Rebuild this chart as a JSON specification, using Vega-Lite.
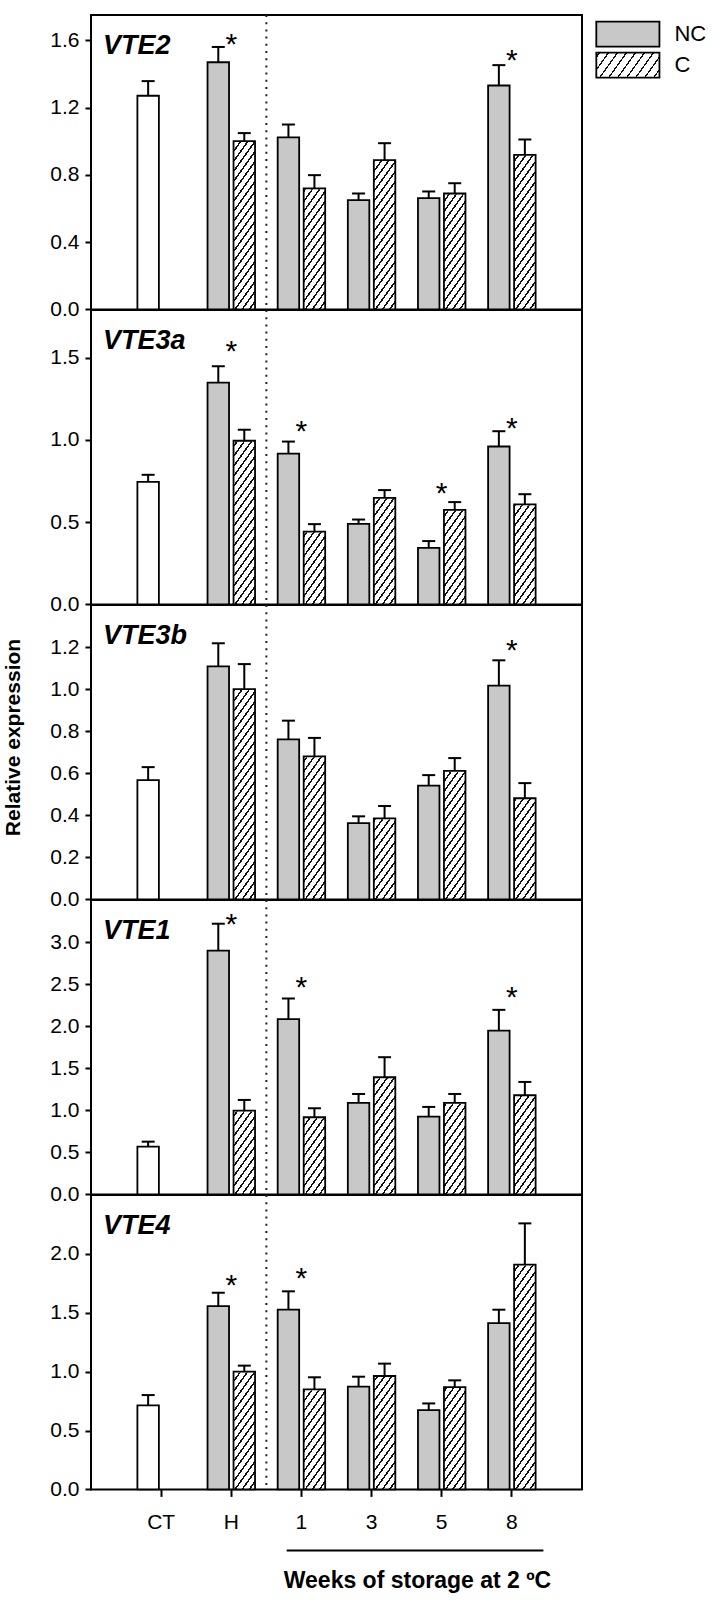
{
"$schema":"https://vega.github.io/schema/vega-lite/v6.json",
"padding":{"left":0,"top":13,"right":0,"bottom":0},
"background":"white",
"spacing":0,
"bounds":"flush",
"resolve":{"scale":{"fill":"independent"}},
"config":{"font":"Liberation Sans","view":{"stroke":"black","strokeWidth":2},
"axisY":{"domain":false,"grid":false,"tickSize":6,"tickWidth":2,"tickColor":"black","labelFontSize":21,"labelColor":"black","labelPadding":6,"labelFlush":false,"labelOverlap":false}},
"datasets":{
"bars":[
{"gene":"VTE2","time":"CT","treatment":"NC","value":1.27,"err_top":1.357},
{"gene":"VTE2","time":"H","treatment":"NC","value":1.469,"err_top":1.56},
{"gene":"VTE2","time":"H","treatment":"C","value":1.0,"err_top":1.048},
{"gene":"VTE2","time":"1","treatment":"NC","value":1.022,"err_top":1.099},
{"gene":"VTE2","time":"1","treatment":"C","value":0.719,"err_top":0.798},
{"gene":"VTE2","time":"3","treatment":"NC","value":0.649,"err_top":0.689},
{"gene":"VTE2","time":"3","treatment":"C","value":0.887,"err_top":0.988},
{"gene":"VTE2","time":"5","treatment":"NC","value":0.661,"err_top":0.701},
{"gene":"VTE2","time":"5","treatment":"C","value":0.689,"err_top":0.75},
{"gene":"VTE2","time":"8","treatment":"NC","value":1.331,"err_top":1.452},
{"gene":"VTE2","time":"8","treatment":"C","value":0.919,"err_top":1.01},
{"gene":"VTE3a","time":"CT","treatment":"NC","value":0.745,"err_top":0.788},
{"gene":"VTE3a","time":"H","treatment":"NC","value":1.349,"err_top":1.448},
{"gene":"VTE3a","time":"H","treatment":"C","value":0.995,"err_top":1.062},
{"gene":"VTE3a","time":"1","treatment":"NC","value":0.917,"err_top":0.99},
{"gene":"VTE3a","time":"1","treatment":"C","value":0.443,"err_top":0.488},
{"gene":"VTE3a","time":"3","treatment":"NC","value":0.49,"err_top":0.516},
{"gene":"VTE3a","time":"3","treatment":"C","value":0.648,"err_top":0.695},
{"gene":"VTE3a","time":"5","treatment":"NC","value":0.344,"err_top":0.385},
{"gene":"VTE3a","time":"5","treatment":"C","value":0.575,"err_top":0.622},
{"gene":"VTE3a","time":"8","treatment":"NC","value":0.96,"err_top":1.053},
{"gene":"VTE3a","time":"8","treatment":"C","value":0.608,"err_top":0.67},
{"gene":"VTE3b","time":"CT","treatment":"NC","value":0.567,"err_top":0.629},
{"gene":"VTE3b","time":"H","treatment":"NC","value":1.108,"err_top":1.218},
{"gene":"VTE3b","time":"H","treatment":"C","value":1.0,"err_top":1.119},
{"gene":"VTE3b","time":"1","treatment":"NC","value":0.761,"err_top":0.85},
{"gene":"VTE3b","time":"1","treatment":"C","value":0.68,"err_top":0.768},
{"gene":"VTE3b","time":"3","treatment":"NC","value":0.363,"err_top":0.395},
{"gene":"VTE3b","time":"3","treatment":"C","value":0.385,"err_top":0.444},
{"gene":"VTE3b","time":"5","treatment":"NC","value":0.541,"err_top":0.591},
{"gene":"VTE3b","time":"5","treatment":"C","value":0.611,"err_top":0.672},
{"gene":"VTE3b","time":"8","treatment":"NC","value":1.017,"err_top":1.137},
{"gene":"VTE3b","time":"8","treatment":"C","value":0.481,"err_top":0.553},
{"gene":"VTE1","time":"CT","treatment":"NC","value":0.567,"err_top":0.627},
{"gene":"VTE1","time":"H","treatment":"NC","value":2.897,"err_top":3.218},
{"gene":"VTE1","time":"H","treatment":"C","value":0.995,"err_top":1.123},
{"gene":"VTE1","time":"1","treatment":"NC","value":2.083,"err_top":2.329},
{"gene":"VTE1","time":"1","treatment":"C","value":0.917,"err_top":1.024},
{"gene":"VTE1","time":"3","treatment":"NC","value":1.087,"err_top":1.194},
{"gene":"VTE1","time":"3","treatment":"C","value":1.393,"err_top":1.631},
{"gene":"VTE1","time":"5","treatment":"NC","value":0.925,"err_top":1.04},
{"gene":"VTE1","time":"5","treatment":"C","value":1.087,"err_top":1.194},
{"gene":"VTE1","time":"8","treatment":"NC","value":1.948,"err_top":2.194},
{"gene":"VTE1","time":"8","treatment":"C","value":1.179,"err_top":1.337},
{"gene":"VTE4","time":"CT","treatment":"NC","value":0.713,"err_top":0.801},
{"gene":"VTE4","time":"H","treatment":"NC","value":1.557,"err_top":1.67},
{"gene":"VTE4","time":"H","treatment":"C","value":1.0,"err_top":1.051},
{"gene":"VTE4","time":"1","treatment":"NC","value":1.526,"err_top":1.682},
{"gene":"VTE4","time":"1","treatment":"C","value":0.849,"err_top":0.952},
{"gene":"VTE4","time":"3","treatment":"NC","value":0.872,"err_top":0.957},
{"gene":"VTE4","time":"3","treatment":"C","value":0.963,"err_top":1.068},
{"gene":"VTE4","time":"5","treatment":"NC","value":0.673,"err_top":0.73},
{"gene":"VTE4","time":"5","treatment":"C","value":0.869,"err_top":0.926},
{"gene":"VTE4","time":"8","treatment":"NC","value":1.412,"err_top":1.526},
{"gene":"VTE4","time":"8","treatment":"C","value":1.909,"err_top":2.259}
],
"stars":[
{"gene":"VTE2","time":"H","y":1.624},{"gene":"VTE2","time":"8","y":1.529},
{"gene":"VTE3a","time":"H","y":1.586},{"gene":"VTE3a","time":"1","y":1.1},{"gene":"VTE3a","time":"5","y":0.725},{"gene":"VTE3a","time":"8","y":1.12},
{"gene":"VTE3b","time":"8","y":1.22},
{"gene":"VTE1","time":"H","y":3.298},{"gene":"VTE1","time":"1","y":2.552},{"gene":"VTE1","time":"8","y":2.437},
{"gene":"VTE4","time":"H","y":1.798},{"gene":"VTE4","time":"1","y":1.855}
],
"labels":[{"gene":"VTE2"},{"gene":"VTE3a"},{"gene":"VTE3b"},{"gene":"VTE1"},{"gene":"VTE4"}],
"legend":[{"treatment":"NC"},{"treatment":"C"}]
},
"vconcat":[
{"width":491,"height":294.4,"layer":[
{"data":{"name":"bars"},"transform":[{"filter":"datum.gene === 'VTE2' && datum.treatment === 'C'"}],"mark":{"type":"bar","strokeWidth":0,"fill":{"gradient":"linear","x1":0,"y1":0,"x2":0.1125,"y2":1.0915,"stops":[{"offset":0,"color":"#fff"},{"offset":0.010,"color":"#fff"},{"offset":0.010,"color":"#111"},{"offset":0.018,"color":"#111"},{"offset":0.018,"color":"#fff"},{"offset":0.041,"color":"#fff"},{"offset":0.041,"color":"#111"},{"offset":0.049,"color":"#111"},{"offset":0.049,"color":"#fff"},{"offset":0.072,"color":"#fff"},{"offset":0.072,"color":"#111"},{"offset":0.080,"color":"#111"},{"offset":0.080,"color":"#fff"},{"offset":0.103,"color":"#fff"},{"offset":0.103,"color":"#111"},{"offset":0.111,"color":"#111"},{"offset":0.111,"color":"#fff"},{"offset":0.134,"color":"#fff"},{"offset":0.134,"color":"#111"},{"offset":0.142,"color":"#111"},{"offset":0.142,"color":"#fff"},{"offset":0.165,"color":"#fff"},{"offset":0.165,"color":"#111"},{"offset":0.173,"color":"#111"},{"offset":0.173,"color":"#fff"},{"offset":0.196,"color":"#fff"},{"offset":0.196,"color":"#111"},{"offset":0.204,"color":"#111"},{"offset":0.204,"color":"#fff"},{"offset":0.227,"color":"#fff"},{"offset":0.227,"color":"#111"},{"offset":0.235,"color":"#111"},{"offset":0.235,"color":"#fff"},{"offset":0.258,"color":"#fff"},{"offset":0.258,"color":"#111"},{"offset":0.266,"color":"#111"},{"offset":0.266,"color":"#fff"},{"offset":0.289,"color":"#fff"},{"offset":0.289,"color":"#111"},{"offset":0.297,"color":"#111"},{"offset":0.297,"color":"#fff"},{"offset":0.320,"color":"#fff"},{"offset":0.320,"color":"#111"},{"offset":0.328,"color":"#111"},{"offset":0.328,"color":"#fff"},{"offset":0.351,"color":"#fff"},{"offset":0.351,"color":"#111"},{"offset":0.359,"color":"#111"},{"offset":0.359,"color":"#fff"},{"offset":0.382,"color":"#fff"},{"offset":0.382,"color":"#111"},{"offset":0.390,"color":"#111"},{"offset":0.390,"color":"#fff"},{"offset":0.413,"color":"#fff"},{"offset":0.413,"color":"#111"},{"offset":0.421,"color":"#111"},{"offset":0.421,"color":"#fff"},{"offset":0.444,"color":"#fff"},{"offset":0.444,"color":"#111"},{"offset":0.452,"color":"#111"},{"offset":0.452,"color":"#fff"},{"offset":0.475,"color":"#fff"},{"offset":0.475,"color":"#111"},{"offset":0.483,"color":"#111"},{"offset":0.483,"color":"#fff"},{"offset":0.506,"color":"#fff"},{"offset":0.506,"color":"#111"},{"offset":0.514,"color":"#111"},{"offset":0.514,"color":"#fff"},{"offset":0.537,"color":"#fff"},{"offset":0.537,"color":"#111"},{"offset":0.545,"color":"#111"},{"offset":0.545,"color":"#fff"},{"offset":0.568,"color":"#fff"},{"offset":0.568,"color":"#111"},{"offset":0.576,"color":"#111"},{"offset":0.576,"color":"#fff"},{"offset":0.599,"color":"#fff"},{"offset":0.599,"color":"#111"},{"offset":0.607,"color":"#111"},{"offset":0.607,"color":"#fff"},{"offset":0.630,"color":"#fff"},{"offset":0.630,"color":"#111"},{"offset":0.638,"color":"#111"},{"offset":0.638,"color":"#fff"},{"offset":0.661,"color":"#fff"},{"offset":0.661,"color":"#111"},{"offset":0.669,"color":"#111"},{"offset":0.669,"color":"#fff"},{"offset":0.692,"color":"#fff"},{"offset":0.692,"color":"#111"},{"offset":0.700,"color":"#111"},{"offset":0.700,"color":"#fff"},{"offset":0.723,"color":"#fff"},{"offset":0.723,"color":"#111"},{"offset":0.731,"color":"#111"},{"offset":0.731,"color":"#fff"},{"offset":0.754,"color":"#fff"},{"offset":0.754,"color":"#111"},{"offset":0.762,"color":"#111"},{"offset":0.762,"color":"#fff"},{"offset":0.785,"color":"#fff"},{"offset":0.785,"color":"#111"},{"offset":0.793,"color":"#111"},{"offset":0.793,"color":"#fff"},{"offset":0.816,"color":"#fff"},{"offset":0.816,"color":"#111"},{"offset":0.824,"color":"#111"},{"offset":0.824,"color":"#fff"},{"offset":0.847,"color":"#fff"},{"offset":0.847,"color":"#111"},{"offset":0.855,"color":"#111"},{"offset":0.855,"color":"#fff"},{"offset":0.878,"color":"#fff"},{"offset":0.878,"color":"#111"},{"offset":0.886,"color":"#111"},{"offset":0.886,"color":"#fff"},{"offset":0.909,"color":"#fff"},{"offset":0.909,"color":"#111"},{"offset":0.917,"color":"#111"},{"offset":0.917,"color":"#fff"},{"offset":0.940,"color":"#fff"},{"offset":0.940,"color":"#111"},{"offset":0.948,"color":"#111"},{"offset":0.948,"color":"#fff"},{"offset":0.971,"color":"#fff"},{"offset":0.971,"color":"#111"},{"offset":0.979,"color":"#111"},{"offset":0.979,"color":"#fff"},{"offset":1,"color":"#fff"}]}},
"encoding":{"x":{"field":"time","type":"ordinal","scale":{"domain":["CT","H","1","3","5","8"],"paddingInner":0,"paddingOuter":0.5},"axis":null},"xOffset":{"field":"treatment","type":"nominal","scale":{"domain":["NC","C"],"paddingInner":0.173,"paddingOuter":0.4355}},"y":{"datum":1.738,"type":"quantitative","scale":{"domain":[0,1.75],"nice":false},"axis":{"values":[0,0.4,0.8,1.2,1.6],"format":".1f","title":null}}}},
{"data":{"name":"bars"},"transform":[{"filter":"datum.gene === 'VTE2' && datum.treatment === 'C'"}],"mark":{"type":"bar","fill":"white","stroke":"white","strokeWidth":1.5},
"encoding":{"x":{"field":"time","type":"ordinal","scale":{"domain":["CT","H","1","3","5","8"],"paddingInner":0,"paddingOuter":0.5},"axis":null},"xOffset":{"field":"treatment","type":"nominal","scale":{"domain":["NC","C"],"paddingInner":0.173,"paddingOuter":0.4355}},"y":{"field":"value","type":"quantitative","scale":{"domain":[0,1.75],"nice":false},"axis":{"values":[0,0.4,0.8,1.2,1.6],"format":".1f","title":null}},"y2":{"datum":1.738}}},
{"data":{"name":"bars"},"transform":[{"filter":"datum.gene === 'VTE2'"}],"mark":{"type":"bar","stroke":"black","strokeWidth":1.8},
"encoding":{"x":{"field":"time","type":"ordinal","scale":{"domain":["CT","H","1","3","5","8"],"paddingInner":0,"paddingOuter":0.5},"axis":null},"xOffset":{"field":"treatment","type":"nominal","scale":{"domain":["NC","C"],"paddingInner":0.173,"paddingOuter":0.4355}},"y":{"field":"value","type":"quantitative","scale":{"domain":[0,1.75],"nice":false},"axis":{"values":[0,0.4,0.8,1.2,1.6],"format":".1f","title":null}},
"fill":{"field":"treatment","type":"nominal","scale":{"domain":["NC","C"],"range":["#c8c8c8","transparent"]},"condition":{"test":"datum.time === 'CT'","value":"white"},"legend":null}}},
{"data":{"name":"bars"},"transform":[{"filter":"datum.gene === 'VTE2'"}],"mark":{"type":"rule","color":"black","strokeWidth":2},
"encoding":{"x":{"field":"time","type":"ordinal","scale":{"domain":["CT","H","1","3","5","8"],"paddingInner":0,"paddingOuter":0.5},"axis":null},"xOffset":{"field":"treatment","type":"nominal","scale":{"domain":["NC","C"],"paddingInner":0.173,"paddingOuter":0.4355}},"y":{"field":"value","type":"quantitative","scale":{"domain":[0,1.75],"nice":false},"axis":{"values":[0,0.4,0.8,1.2,1.6],"format":".1f","title":null}},"y2":{"field":"err_top"}}},
{"data":{"name":"bars"},"transform":[{"filter":"datum.gene === 'VTE2'"}],"mark":{"type":"tick","color":"black","thickness":2,"size":13,"opacity":1},
"encoding":{"x":{"field":"time","type":"ordinal","scale":{"domain":["CT","H","1","3","5","8"],"paddingInner":0,"paddingOuter":0.5},"axis":null},"xOffset":{"field":"treatment","type":"nominal","scale":{"domain":["NC","C"],"paddingInner":0.173,"paddingOuter":0.4355}},"y":{"field":"err_top","type":"quantitative","scale":{"domain":[0,1.75],"nice":false},"axis":{"values":[0,0.4,0.8,1.2,1.6],"format":".1f","title":null}}}},
{"data":{"name":"stars"},"transform":[{"filter":"datum.gene === 'VTE2'"}],"mark":{"type":"text","text":"*","fontSize":30,"dy":17.5,"baseline":"alphabetic","color":"black"},
"encoding":{"x":{"field":"time","type":"ordinal","scale":{"domain":["CT","H","1","3","5","8"],"paddingInner":0,"paddingOuter":0.5},"axis":null},"y":{"field":"y","type":"quantitative","scale":{"domain":[0,1.75],"nice":false},"axis":{"values":[0,0.4,0.8,1.2,1.6],"format":".1f","title":null}}}},
{"data":{"name":"labels"},"transform":[{"filter":"datum.gene === 'VTE2'"}],"mark":{"type":"rule","strokeDash":[2,5.2],"strokeWidth":2,"color":"#222"},
"encoding":{"x":{"datum":"1","type":"ordinal","bandPosition":0,"scale":{"domain":["CT","H","1","3","5","8"],"paddingInner":0,"paddingOuter":0.5},"axis":null}}},
{"data":{"name":"labels"},"transform":[{"filter":"datum.gene === 'VTE2'"}],"mark":{"type":"text","fontSize":27,"fontWeight":"bold","fontStyle":"italic","align":"left","baseline":"alphabetic","dx":-23,"dy":39,"color":"black"},
"encoding":{"x":{"datum":"CT","type":"ordinal","bandPosition":0,"scale":{"domain":["CT","H","1","3","5","8"],"paddingInner":0,"paddingOuter":0.5},"axis":null},"y":{"datum":1.75,"type":"quantitative","scale":{"domain":[0,1.75],"nice":false},"axis":{"values":[0,0.4,0.8,1.2,1.6],"format":".1f","title":null}},"text":{"field":"gene"}}},
{"data":{"name":"legend"},"transform":[{"filter":"datum.treatment === 'NC'"}],"mark":{"type":"rect","fill":"#c8c8c8","stroke":"black","strokeWidth":1.8},
"encoding":{"x":{"datum":"8","type":"ordinal","bandPosition":1.704,"scale":{"domain":["CT","H","1","3","5","8"],"paddingInner":0,"paddingOuter":0.5},"axis":null},"x2":{"datum":"8","bandPosition":2.604},"y":{"datum":1.7102,"type":"quantitative","scale":{"domain":[0,1.75],"nice":false},"axis":{"values":[0,0.4,0.8,1.2,1.6],"format":".1f","title":null}},"y2":{"datum":1.5616}}},
{"data":{"name":"legend"},"transform":[{"filter":"datum.treatment === 'C'"}],"mark":{"type":"rect","strokeWidth":0,"fill":{"gradient":"linear","x1":0,"y1":0,"x2":1.188,"y2":0.3367,"stops":[{"offset":0,"color":"#fff"},{"offset":0.03,"color":"#fff"},{"offset":0.03,"color":"#111"},{"offset":0.05,"color":"#111"},{"offset":0.05,"color":"#fff"},{"offset":0.141,"color":"#fff"},{"offset":0.141,"color":"#111"},{"offset":0.161,"color":"#111"},{"offset":0.161,"color":"#fff"},{"offset":0.252,"color":"#fff"},{"offset":0.252,"color":"#111"},{"offset":0.272,"color":"#111"},{"offset":0.272,"color":"#fff"},{"offset":0.363,"color":"#fff"},{"offset":0.363,"color":"#111"},{"offset":0.383,"color":"#111"},{"offset":0.383,"color":"#fff"},{"offset":0.474,"color":"#fff"},{"offset":0.474,"color":"#111"},{"offset":0.494,"color":"#111"},{"offset":0.494,"color":"#fff"},{"offset":0.585,"color":"#fff"},{"offset":0.585,"color":"#111"},{"offset":0.605,"color":"#111"},{"offset":0.605,"color":"#fff"},{"offset":0.696,"color":"#fff"},{"offset":0.696,"color":"#111"},{"offset":0.716,"color":"#111"},{"offset":0.716,"color":"#fff"},{"offset":0.807,"color":"#fff"},{"offset":0.807,"color":"#111"},{"offset":0.827,"color":"#111"},{"offset":0.827,"color":"#fff"},{"offset":0.918,"color":"#fff"},{"offset":0.918,"color":"#111"},{"offset":0.938,"color":"#111"},{"offset":0.938,"color":"#fff"},{"offset":1,"color":"#fff"}]}},
"encoding":{"x":{"datum":"8","type":"ordinal","bandPosition":1.704,"scale":{"domain":["CT","H","1","3","5","8"],"paddingInner":0,"paddingOuter":0.5},"axis":null},"x2":{"datum":"8","bandPosition":2.604},"y":{"datum":1.5259,"type":"quantitative","scale":{"domain":[0,1.75],"nice":false},"axis":{"values":[0,0.4,0.8,1.2,1.6],"format":".1f","title":null}},"y2":{"datum":1.3773}}},
{"data":{"name":"legend"},"transform":[{"filter":"datum.treatment === 'C'"}],"mark":{"type":"rect","fill":"transparent","stroke":"black","strokeWidth":1.8},
"encoding":{"x":{"datum":"8","type":"ordinal","bandPosition":1.704,"scale":{"domain":["CT","H","1","3","5","8"],"paddingInner":0,"paddingOuter":0.5},"axis":null},"x2":{"datum":"8","bandPosition":2.604},"y":{"datum":1.5259,"type":"quantitative","scale":{"domain":[0,1.75],"nice":false},"axis":{"values":[0,0.4,0.8,1.2,1.6],"format":".1f","title":null}},"y2":{"datum":1.3773}}},
{"data":{"name":"legend"},"transform":[{"filter":"datum.treatment === 'NC'"}],"mark":{"type":"text","align":"left","baseline":"middle","dx":15,"fontSize":22,"color":"black"},
"encoding":{"x":{"datum":"8","type":"ordinal","bandPosition":2.604,"scale":{"domain":["CT","H","1","3","5","8"],"paddingInner":0,"paddingOuter":0.5},"axis":null},"y":{"datum":1.6359,"type":"quantitative","scale":{"domain":[0,1.75],"nice":false},"axis":{"values":[0,0.4,0.8,1.2,1.6],"format":".1f","title":null}},"text":{"field":"treatment"}}},
{"data":{"name":"legend"},"transform":[{"filter":"datum.treatment === 'C'"}],"mark":{"type":"text","align":"left","baseline":"middle","dx":15,"fontSize":22,"color":"black"},
"encoding":{"x":{"datum":"8","type":"ordinal","bandPosition":2.604,"scale":{"domain":["CT","H","1","3","5","8"],"paddingInner":0,"paddingOuter":0.5},"axis":null},"y":{"datum":1.4516,"type":"quantitative","scale":{"domain":[0,1.75],"nice":false},"axis":{"values":[0,0.4,0.8,1.2,1.6],"format":".1f","title":null}},"text":{"field":"treatment"}}}
]},
{"width":491,"height":294.4,"layer":[
{"data":{"name":"bars"},"transform":[{"filter":"datum.gene === 'VTE3a' && datum.treatment === 'C'"}],"mark":{"type":"bar","strokeWidth":0,"fill":{"gradient":"linear","x1":0,"y1":0,"x2":0.1125,"y2":1.0915,"stops":[{"offset":0,"color":"#fff"},{"offset":0.010,"color":"#fff"},{"offset":0.010,"color":"#111"},{"offset":0.018,"color":"#111"},{"offset":0.018,"color":"#fff"},{"offset":0.041,"color":"#fff"},{"offset":0.041,"color":"#111"},{"offset":0.049,"color":"#111"},{"offset":0.049,"color":"#fff"},{"offset":0.072,"color":"#fff"},{"offset":0.072,"color":"#111"},{"offset":0.080,"color":"#111"},{"offset":0.080,"color":"#fff"},{"offset":0.103,"color":"#fff"},{"offset":0.103,"color":"#111"},{"offset":0.111,"color":"#111"},{"offset":0.111,"color":"#fff"},{"offset":0.134,"color":"#fff"},{"offset":0.134,"color":"#111"},{"offset":0.142,"color":"#111"},{"offset":0.142,"color":"#fff"},{"offset":0.165,"color":"#fff"},{"offset":0.165,"color":"#111"},{"offset":0.173,"color":"#111"},{"offset":0.173,"color":"#fff"},{"offset":0.196,"color":"#fff"},{"offset":0.196,"color":"#111"},{"offset":0.204,"color":"#111"},{"offset":0.204,"color":"#fff"},{"offset":0.227,"color":"#fff"},{"offset":0.227,"color":"#111"},{"offset":0.235,"color":"#111"},{"offset":0.235,"color":"#fff"},{"offset":0.258,"color":"#fff"},{"offset":0.258,"color":"#111"},{"offset":0.266,"color":"#111"},{"offset":0.266,"color":"#fff"},{"offset":0.289,"color":"#fff"},{"offset":0.289,"color":"#111"},{"offset":0.297,"color":"#111"},{"offset":0.297,"color":"#fff"},{"offset":0.320,"color":"#fff"},{"offset":0.320,"color":"#111"},{"offset":0.328,"color":"#111"},{"offset":0.328,"color":"#fff"},{"offset":0.351,"color":"#fff"},{"offset":0.351,"color":"#111"},{"offset":0.359,"color":"#111"},{"offset":0.359,"color":"#fff"},{"offset":0.382,"color":"#fff"},{"offset":0.382,"color":"#111"},{"offset":0.390,"color":"#111"},{"offset":0.390,"color":"#fff"},{"offset":0.413,"color":"#fff"},{"offset":0.413,"color":"#111"},{"offset":0.421,"color":"#111"},{"offset":0.421,"color":"#fff"},{"offset":0.444,"color":"#fff"},{"offset":0.444,"color":"#111"},{"offset":0.452,"color":"#111"},{"offset":0.452,"color":"#fff"},{"offset":0.475,"color":"#fff"},{"offset":0.475,"color":"#111"},{"offset":0.483,"color":"#111"},{"offset":0.483,"color":"#fff"},{"offset":0.506,"color":"#fff"},{"offset":0.506,"color":"#111"},{"offset":0.514,"color":"#111"},{"offset":0.514,"color":"#fff"},{"offset":0.537,"color":"#fff"},{"offset":0.537,"color":"#111"},{"offset":0.545,"color":"#111"},{"offset":0.545,"color":"#fff"},{"offset":0.568,"color":"#fff"},{"offset":0.568,"color":"#111"},{"offset":0.576,"color":"#111"},{"offset":0.576,"color":"#fff"},{"offset":0.599,"color":"#fff"},{"offset":0.599,"color":"#111"},{"offset":0.607,"color":"#111"},{"offset":0.607,"color":"#fff"},{"offset":0.630,"color":"#fff"},{"offset":0.630,"color":"#111"},{"offset":0.638,"color":"#111"},{"offset":0.638,"color":"#fff"},{"offset":0.661,"color":"#fff"},{"offset":0.661,"color":"#111"},{"offset":0.669,"color":"#111"},{"offset":0.669,"color":"#fff"},{"offset":0.692,"color":"#fff"},{"offset":0.692,"color":"#111"},{"offset":0.700,"color":"#111"},{"offset":0.700,"color":"#fff"},{"offset":0.723,"color":"#fff"},{"offset":0.723,"color":"#111"},{"offset":0.731,"color":"#111"},{"offset":0.731,"color":"#fff"},{"offset":0.754,"color":"#fff"},{"offset":0.754,"color":"#111"},{"offset":0.762,"color":"#111"},{"offset":0.762,"color":"#fff"},{"offset":0.785,"color":"#fff"},{"offset":0.785,"color":"#111"},{"offset":0.793,"color":"#111"},{"offset":0.793,"color":"#fff"},{"offset":0.816,"color":"#fff"},{"offset":0.816,"color":"#111"},{"offset":0.824,"color":"#111"},{"offset":0.824,"color":"#fff"},{"offset":0.847,"color":"#fff"},{"offset":0.847,"color":"#111"},{"offset":0.855,"color":"#111"},{"offset":0.855,"color":"#fff"},{"offset":0.878,"color":"#fff"},{"offset":0.878,"color":"#111"},{"offset":0.886,"color":"#111"},{"offset":0.886,"color":"#fff"},{"offset":0.909,"color":"#fff"},{"offset":0.909,"color":"#111"},{"offset":0.917,"color":"#111"},{"offset":0.917,"color":"#fff"},{"offset":0.940,"color":"#fff"},{"offset":0.940,"color":"#111"},{"offset":0.948,"color":"#111"},{"offset":0.948,"color":"#fff"},{"offset":0.971,"color":"#fff"},{"offset":0.971,"color":"#111"},{"offset":0.979,"color":"#111"},{"offset":0.979,"color":"#fff"},{"offset":1,"color":"#fff"}]}},
"encoding":{"x":{"field":"time","type":"ordinal","scale":{"domain":["CT","H","1","3","5","8"],"paddingInner":0,"paddingOuter":0.5},"axis":null},"xOffset":{"field":"treatment","type":"nominal","scale":{"domain":["NC","C"],"paddingInner":0.173,"paddingOuter":0.4355}},"y":{"datum":1.778,"type":"quantitative","scale":{"domain":[0,1.79],"nice":false},"axis":{"values":[0,0.5,1,1.5],"format":".1f","title":null}}}},
{"data":{"name":"bars"},"transform":[{"filter":"datum.gene === 'VTE3a' && datum.treatment === 'C'"}],"mark":{"type":"bar","fill":"white","stroke":"white","strokeWidth":1.5},
"encoding":{"x":{"field":"time","type":"ordinal","scale":{"domain":["CT","H","1","3","5","8"],"paddingInner":0,"paddingOuter":0.5},"axis":null},"xOffset":{"field":"treatment","type":"nominal","scale":{"domain":["NC","C"],"paddingInner":0.173,"paddingOuter":0.4355}},"y":{"field":"value","type":"quantitative","scale":{"domain":[0,1.79],"nice":false},"axis":{"values":[0,0.5,1,1.5],"format":".1f","title":null}},"y2":{"datum":1.778}}},
{"data":{"name":"bars"},"transform":[{"filter":"datum.gene === 'VTE3a'"}],"mark":{"type":"bar","stroke":"black","strokeWidth":1.8},
"encoding":{"x":{"field":"time","type":"ordinal","scale":{"domain":["CT","H","1","3","5","8"],"paddingInner":0,"paddingOuter":0.5},"axis":null},"xOffset":{"field":"treatment","type":"nominal","scale":{"domain":["NC","C"],"paddingInner":0.173,"paddingOuter":0.4355}},"y":{"field":"value","type":"quantitative","scale":{"domain":[0,1.79],"nice":false},"axis":{"values":[0,0.5,1,1.5],"format":".1f","title":null}},
"fill":{"field":"treatment","type":"nominal","scale":{"domain":["NC","C"],"range":["#c8c8c8","transparent"]},"condition":{"test":"datum.time === 'CT'","value":"white"},"legend":null}}},
{"data":{"name":"bars"},"transform":[{"filter":"datum.gene === 'VTE3a'"}],"mark":{"type":"rule","color":"black","strokeWidth":2},
"encoding":{"x":{"field":"time","type":"ordinal","scale":{"domain":["CT","H","1","3","5","8"],"paddingInner":0,"paddingOuter":0.5},"axis":null},"xOffset":{"field":"treatment","type":"nominal","scale":{"domain":["NC","C"],"paddingInner":0.173,"paddingOuter":0.4355}},"y":{"field":"value","type":"quantitative","scale":{"domain":[0,1.79],"nice":false},"axis":{"values":[0,0.5,1,1.5],"format":".1f","title":null}},"y2":{"field":"err_top"}}},
{"data":{"name":"bars"},"transform":[{"filter":"datum.gene === 'VTE3a'"}],"mark":{"type":"tick","color":"black","thickness":2,"size":13,"opacity":1},
"encoding":{"x":{"field":"time","type":"ordinal","scale":{"domain":["CT","H","1","3","5","8"],"paddingInner":0,"paddingOuter":0.5},"axis":null},"xOffset":{"field":"treatment","type":"nominal","scale":{"domain":["NC","C"],"paddingInner":0.173,"paddingOuter":0.4355}},"y":{"field":"err_top","type":"quantitative","scale":{"domain":[0,1.79],"nice":false},"axis":{"values":[0,0.5,1,1.5],"format":".1f","title":null}}}},
{"data":{"name":"stars"},"transform":[{"filter":"datum.gene === 'VTE3a'"}],"mark":{"type":"text","text":"*","fontSize":30,"dy":17.5,"baseline":"alphabetic","color":"black"},
"encoding":{"x":{"field":"time","type":"ordinal","scale":{"domain":["CT","H","1","3","5","8"],"paddingInner":0,"paddingOuter":0.5},"axis":null},"y":{"field":"y","type":"quantitative","scale":{"domain":[0,1.79],"nice":false},"axis":{"values":[0,0.5,1,1.5],"format":".1f","title":null}}}},
{"data":{"name":"labels"},"transform":[{"filter":"datum.gene === 'VTE3a'"}],"mark":{"type":"rule","strokeDash":[2,5.2],"strokeWidth":2,"color":"#222"},
"encoding":{"x":{"datum":"1","type":"ordinal","bandPosition":0,"scale":{"domain":["CT","H","1","3","5","8"],"paddingInner":0,"paddingOuter":0.5},"axis":null}}},
{"data":{"name":"labels"},"transform":[{"filter":"datum.gene === 'VTE3a'"}],"mark":{"type":"text","fontSize":27,"fontWeight":"bold","fontStyle":"italic","align":"left","baseline":"alphabetic","dx":-23,"dy":39,"color":"black"},
"encoding":{"x":{"datum":"CT","type":"ordinal","bandPosition":0,"scale":{"domain":["CT","H","1","3","5","8"],"paddingInner":0,"paddingOuter":0.5},"axis":null},"y":{"datum":1.79,"type":"quantitative","scale":{"domain":[0,1.79],"nice":false},"axis":{"values":[0,0.5,1,1.5],"format":".1f","title":null}},"text":{"field":"gene"}}}
]},
{"width":491,"height":294.4,"layer":[
{"data":{"name":"bars"},"transform":[{"filter":"datum.gene === 'VTE3b' && datum.treatment === 'C'"}],"mark":{"type":"bar","strokeWidth":0,"fill":{"gradient":"linear","x1":0,"y1":0,"x2":0.1125,"y2":1.0915,"stops":[{"offset":0,"color":"#fff"},{"offset":0.010,"color":"#fff"},{"offset":0.010,"color":"#111"},{"offset":0.018,"color":"#111"},{"offset":0.018,"color":"#fff"},{"offset":0.041,"color":"#fff"},{"offset":0.041,"color":"#111"},{"offset":0.049,"color":"#111"},{"offset":0.049,"color":"#fff"},{"offset":0.072,"color":"#fff"},{"offset":0.072,"color":"#111"},{"offset":0.080,"color":"#111"},{"offset":0.080,"color":"#fff"},{"offset":0.103,"color":"#fff"},{"offset":0.103,"color":"#111"},{"offset":0.111,"color":"#111"},{"offset":0.111,"color":"#fff"},{"offset":0.134,"color":"#fff"},{"offset":0.134,"color":"#111"},{"offset":0.142,"color":"#111"},{"offset":0.142,"color":"#fff"},{"offset":0.165,"color":"#fff"},{"offset":0.165,"color":"#111"},{"offset":0.173,"color":"#111"},{"offset":0.173,"color":"#fff"},{"offset":0.196,"color":"#fff"},{"offset":0.196,"color":"#111"},{"offset":0.204,"color":"#111"},{"offset":0.204,"color":"#fff"},{"offset":0.227,"color":"#fff"},{"offset":0.227,"color":"#111"},{"offset":0.235,"color":"#111"},{"offset":0.235,"color":"#fff"},{"offset":0.258,"color":"#fff"},{"offset":0.258,"color":"#111"},{"offset":0.266,"color":"#111"},{"offset":0.266,"color":"#fff"},{"offset":0.289,"color":"#fff"},{"offset":0.289,"color":"#111"},{"offset":0.297,"color":"#111"},{"offset":0.297,"color":"#fff"},{"offset":0.320,"color":"#fff"},{"offset":0.320,"color":"#111"},{"offset":0.328,"color":"#111"},{"offset":0.328,"color":"#fff"},{"offset":0.351,"color":"#fff"},{"offset":0.351,"color":"#111"},{"offset":0.359,"color":"#111"},{"offset":0.359,"color":"#fff"},{"offset":0.382,"color":"#fff"},{"offset":0.382,"color":"#111"},{"offset":0.390,"color":"#111"},{"offset":0.390,"color":"#fff"},{"offset":0.413,"color":"#fff"},{"offset":0.413,"color":"#111"},{"offset":0.421,"color":"#111"},{"offset":0.421,"color":"#fff"},{"offset":0.444,"color":"#fff"},{"offset":0.444,"color":"#111"},{"offset":0.452,"color":"#111"},{"offset":0.452,"color":"#fff"},{"offset":0.475,"color":"#fff"},{"offset":0.475,"color":"#111"},{"offset":0.483,"color":"#111"},{"offset":0.483,"color":"#fff"},{"offset":0.506,"color":"#fff"},{"offset":0.506,"color":"#111"},{"offset":0.514,"color":"#111"},{"offset":0.514,"color":"#fff"},{"offset":0.537,"color":"#fff"},{"offset":0.537,"color":"#111"},{"offset":0.545,"color":"#111"},{"offset":0.545,"color":"#fff"},{"offset":0.568,"color":"#fff"},{"offset":0.568,"color":"#111"},{"offset":0.576,"color":"#111"},{"offset":0.576,"color":"#fff"},{"offset":0.599,"color":"#fff"},{"offset":0.599,"color":"#111"},{"offset":0.607,"color":"#111"},{"offset":0.607,"color":"#fff"},{"offset":0.630,"color":"#fff"},{"offset":0.630,"color":"#111"},{"offset":0.638,"color":"#111"},{"offset":0.638,"color":"#fff"},{"offset":0.661,"color":"#fff"},{"offset":0.661,"color":"#111"},{"offset":0.669,"color":"#111"},{"offset":0.669,"color":"#fff"},{"offset":0.692,"color":"#fff"},{"offset":0.692,"color":"#111"},{"offset":0.700,"color":"#111"},{"offset":0.700,"color":"#fff"},{"offset":0.723,"color":"#fff"},{"offset":0.723,"color":"#111"},{"offset":0.731,"color":"#111"},{"offset":0.731,"color":"#fff"},{"offset":0.754,"color":"#fff"},{"offset":0.754,"color":"#111"},{"offset":0.762,"color":"#111"},{"offset":0.762,"color":"#fff"},{"offset":0.785,"color":"#fff"},{"offset":0.785,"color":"#111"},{"offset":0.793,"color":"#111"},{"offset":0.793,"color":"#fff"},{"offset":0.816,"color":"#fff"},{"offset":0.816,"color":"#111"},{"offset":0.824,"color":"#111"},{"offset":0.824,"color":"#fff"},{"offset":0.847,"color":"#fff"},{"offset":0.847,"color":"#111"},{"offset":0.855,"color":"#111"},{"offset":0.855,"color":"#fff"},{"offset":0.878,"color":"#fff"},{"offset":0.878,"color":"#111"},{"offset":0.886,"color":"#111"},{"offset":0.886,"color":"#fff"},{"offset":0.909,"color":"#fff"},{"offset":0.909,"color":"#111"},{"offset":0.917,"color":"#111"},{"offset":0.917,"color":"#fff"},{"offset":0.940,"color":"#fff"},{"offset":0.940,"color":"#111"},{"offset":0.948,"color":"#111"},{"offset":0.948,"color":"#fff"},{"offset":0.971,"color":"#fff"},{"offset":0.971,"color":"#111"},{"offset":0.979,"color":"#111"},{"offset":0.979,"color":"#fff"},{"offset":1,"color":"#fff"}]}},
"encoding":{"x":{"field":"time","type":"ordinal","scale":{"domain":["CT","H","1","3","5","8"],"paddingInner":0,"paddingOuter":0.5},"axis":null},"xOffset":{"field":"treatment","type":"nominal","scale":{"domain":["NC","C"],"paddingInner":0.173,"paddingOuter":0.4355}},"y":{"datum":1.3905,"type":"quantitative","scale":{"domain":[0,1.4],"nice":false},"axis":{"values":[0,0.2,0.4,0.6,0.8,1,1.2],"format":".1f","title":"Relative expression","titleFontSize":21,"titleFontWeight":"bold","titleColor":"black","titleX":-72,"titleY":132,"titleBaseline":"alphabetic","titleAngle":-90,"titleAlign":"center"}}}},
{"data":{"name":"bars"},"transform":[{"filter":"datum.gene === 'VTE3b' && datum.treatment === 'C'"}],"mark":{"type":"bar","fill":"white","stroke":"white","strokeWidth":1.5},
"encoding":{"x":{"field":"time","type":"ordinal","scale":{"domain":["CT","H","1","3","5","8"],"paddingInner":0,"paddingOuter":0.5},"axis":null},"xOffset":{"field":"treatment","type":"nominal","scale":{"domain":["NC","C"],"paddingInner":0.173,"paddingOuter":0.4355}},"y":{"field":"value","type":"quantitative","scale":{"domain":[0,1.4],"nice":false},"axis":{"values":[0,0.2,0.4,0.6,0.8,1,1.2],"format":".1f","title":"Relative expression","titleFontSize":21,"titleFontWeight":"bold","titleColor":"black","titleX":-72,"titleY":132,"titleBaseline":"alphabetic","titleAngle":-90,"titleAlign":"center"}},"y2":{"datum":1.3905}}},
{"data":{"name":"bars"},"transform":[{"filter":"datum.gene === 'VTE3b'"}],"mark":{"type":"bar","stroke":"black","strokeWidth":1.8},
"encoding":{"x":{"field":"time","type":"ordinal","scale":{"domain":["CT","H","1","3","5","8"],"paddingInner":0,"paddingOuter":0.5},"axis":null},"xOffset":{"field":"treatment","type":"nominal","scale":{"domain":["NC","C"],"paddingInner":0.173,"paddingOuter":0.4355}},"y":{"field":"value","type":"quantitative","scale":{"domain":[0,1.4],"nice":false},"axis":{"values":[0,0.2,0.4,0.6,0.8,1,1.2],"format":".1f","title":"Relative expression","titleFontSize":21,"titleFontWeight":"bold","titleColor":"black","titleX":-72,"titleY":132,"titleBaseline":"alphabetic","titleAngle":-90,"titleAlign":"center"}},
"fill":{"field":"treatment","type":"nominal","scale":{"domain":["NC","C"],"range":["#c8c8c8","transparent"]},"condition":{"test":"datum.time === 'CT'","value":"white"},"legend":null}}},
{"data":{"name":"bars"},"transform":[{"filter":"datum.gene === 'VTE3b'"}],"mark":{"type":"rule","color":"black","strokeWidth":2},
"encoding":{"x":{"field":"time","type":"ordinal","scale":{"domain":["CT","H","1","3","5","8"],"paddingInner":0,"paddingOuter":0.5},"axis":null},"xOffset":{"field":"treatment","type":"nominal","scale":{"domain":["NC","C"],"paddingInner":0.173,"paddingOuter":0.4355}},"y":{"field":"value","type":"quantitative","scale":{"domain":[0,1.4],"nice":false},"axis":{"values":[0,0.2,0.4,0.6,0.8,1,1.2],"format":".1f","title":"Relative expression","titleFontSize":21,"titleFontWeight":"bold","titleColor":"black","titleX":-72,"titleY":132,"titleBaseline":"alphabetic","titleAngle":-90,"titleAlign":"center"}},"y2":{"field":"err_top"}}},
{"data":{"name":"bars"},"transform":[{"filter":"datum.gene === 'VTE3b'"}],"mark":{"type":"tick","color":"black","thickness":2,"size":13,"opacity":1},
"encoding":{"x":{"field":"time","type":"ordinal","scale":{"domain":["CT","H","1","3","5","8"],"paddingInner":0,"paddingOuter":0.5},"axis":null},"xOffset":{"field":"treatment","type":"nominal","scale":{"domain":["NC","C"],"paddingInner":0.173,"paddingOuter":0.4355}},"y":{"field":"err_top","type":"quantitative","scale":{"domain":[0,1.4],"nice":false},"axis":{"values":[0,0.2,0.4,0.6,0.8,1,1.2],"format":".1f","title":"Relative expression","titleFontSize":21,"titleFontWeight":"bold","titleColor":"black","titleX":-72,"titleY":132,"titleBaseline":"alphabetic","titleAngle":-90,"titleAlign":"center"}}}},
{"data":{"name":"stars"},"transform":[{"filter":"datum.gene === 'VTE3b'"}],"mark":{"type":"text","text":"*","fontSize":30,"dy":17.5,"baseline":"alphabetic","color":"black"},
"encoding":{"x":{"field":"time","type":"ordinal","scale":{"domain":["CT","H","1","3","5","8"],"paddingInner":0,"paddingOuter":0.5},"axis":null},"y":{"field":"y","type":"quantitative","scale":{"domain":[0,1.4],"nice":false},"axis":{"values":[0,0.2,0.4,0.6,0.8,1,1.2],"format":".1f","title":"Relative expression","titleFontSize":21,"titleFontWeight":"bold","titleColor":"black","titleX":-72,"titleY":132,"titleBaseline":"alphabetic","titleAngle":-90,"titleAlign":"center"}}}},
{"data":{"name":"labels"},"transform":[{"filter":"datum.gene === 'VTE3b'"}],"mark":{"type":"rule","strokeDash":[2,5.2],"strokeWidth":2,"color":"#222"},
"encoding":{"x":{"datum":"1","type":"ordinal","bandPosition":0,"scale":{"domain":["CT","H","1","3","5","8"],"paddingInner":0,"paddingOuter":0.5},"axis":null}}},
{"data":{"name":"labels"},"transform":[{"filter":"datum.gene === 'VTE3b'"}],"mark":{"type":"text","fontSize":27,"fontWeight":"bold","fontStyle":"italic","align":"left","baseline":"alphabetic","dx":-23,"dy":39,"color":"black"},
"encoding":{"x":{"datum":"CT","type":"ordinal","bandPosition":0,"scale":{"domain":["CT","H","1","3","5","8"],"paddingInner":0,"paddingOuter":0.5},"axis":null},"y":{"datum":1.4,"type":"quantitative","scale":{"domain":[0,1.4],"nice":false},"axis":{"values":[0,0.2,0.4,0.6,0.8,1,1.2],"format":".1f","title":"Relative expression","titleFontSize":21,"titleFontWeight":"bold","titleColor":"black","titleX":-72,"titleY":132,"titleBaseline":"alphabetic","titleAngle":-90,"titleAlign":"center"}},"text":{"field":"gene"}}}
]},
{"width":491,"height":294.4,"layer":[
{"data":{"name":"bars"},"transform":[{"filter":"datum.gene === 'VTE1' && datum.treatment === 'C'"}],"mark":{"type":"bar","strokeWidth":0,"fill":{"gradient":"linear","x1":0,"y1":0,"x2":0.1125,"y2":1.0915,"stops":[{"offset":0,"color":"#fff"},{"offset":0.010,"color":"#fff"},{"offset":0.010,"color":"#111"},{"offset":0.018,"color":"#111"},{"offset":0.018,"color":"#fff"},{"offset":0.041,"color":"#fff"},{"offset":0.041,"color":"#111"},{"offset":0.049,"color":"#111"},{"offset":0.049,"color":"#fff"},{"offset":0.072,"color":"#fff"},{"offset":0.072,"color":"#111"},{"offset":0.080,"color":"#111"},{"offset":0.080,"color":"#fff"},{"offset":0.103,"color":"#fff"},{"offset":0.103,"color":"#111"},{"offset":0.111,"color":"#111"},{"offset":0.111,"color":"#fff"},{"offset":0.134,"color":"#fff"},{"offset":0.134,"color":"#111"},{"offset":0.142,"color":"#111"},{"offset":0.142,"color":"#fff"},{"offset":0.165,"color":"#fff"},{"offset":0.165,"color":"#111"},{"offset":0.173,"color":"#111"},{"offset":0.173,"color":"#fff"},{"offset":0.196,"color":"#fff"},{"offset":0.196,"color":"#111"},{"offset":0.204,"color":"#111"},{"offset":0.204,"color":"#fff"},{"offset":0.227,"color":"#fff"},{"offset":0.227,"color":"#111"},{"offset":0.235,"color":"#111"},{"offset":0.235,"color":"#fff"},{"offset":0.258,"color":"#fff"},{"offset":0.258,"color":"#111"},{"offset":0.266,"color":"#111"},{"offset":0.266,"color":"#fff"},{"offset":0.289,"color":"#fff"},{"offset":0.289,"color":"#111"},{"offset":0.297,"color":"#111"},{"offset":0.297,"color":"#fff"},{"offset":0.320,"color":"#fff"},{"offset":0.320,"color":"#111"},{"offset":0.328,"color":"#111"},{"offset":0.328,"color":"#fff"},{"offset":0.351,"color":"#fff"},{"offset":0.351,"color":"#111"},{"offset":0.359,"color":"#111"},{"offset":0.359,"color":"#fff"},{"offset":0.382,"color":"#fff"},{"offset":0.382,"color":"#111"},{"offset":0.390,"color":"#111"},{"offset":0.390,"color":"#fff"},{"offset":0.413,"color":"#fff"},{"offset":0.413,"color":"#111"},{"offset":0.421,"color":"#111"},{"offset":0.421,"color":"#fff"},{"offset":0.444,"color":"#fff"},{"offset":0.444,"color":"#111"},{"offset":0.452,"color":"#111"},{"offset":0.452,"color":"#fff"},{"offset":0.475,"color":"#fff"},{"offset":0.475,"color":"#111"},{"offset":0.483,"color":"#111"},{"offset":0.483,"color":"#fff"},{"offset":0.506,"color":"#fff"},{"offset":0.506,"color":"#111"},{"offset":0.514,"color":"#111"},{"offset":0.514,"color":"#fff"},{"offset":0.537,"color":"#fff"},{"offset":0.537,"color":"#111"},{"offset":0.545,"color":"#111"},{"offset":0.545,"color":"#fff"},{"offset":0.568,"color":"#fff"},{"offset":0.568,"color":"#111"},{"offset":0.576,"color":"#111"},{"offset":0.576,"color":"#fff"},{"offset":0.599,"color":"#fff"},{"offset":0.599,"color":"#111"},{"offset":0.607,"color":"#111"},{"offset":0.607,"color":"#fff"},{"offset":0.630,"color":"#fff"},{"offset":0.630,"color":"#111"},{"offset":0.638,"color":"#111"},{"offset":0.638,"color":"#fff"},{"offset":0.661,"color":"#fff"},{"offset":0.661,"color":"#111"},{"offset":0.669,"color":"#111"},{"offset":0.669,"color":"#fff"},{"offset":0.692,"color":"#fff"},{"offset":0.692,"color":"#111"},{"offset":0.700,"color":"#111"},{"offset":0.700,"color":"#fff"},{"offset":0.723,"color":"#fff"},{"offset":0.723,"color":"#111"},{"offset":0.731,"color":"#111"},{"offset":0.731,"color":"#fff"},{"offset":0.754,"color":"#fff"},{"offset":0.754,"color":"#111"},{"offset":0.762,"color":"#111"},{"offset":0.762,"color":"#fff"},{"offset":0.785,"color":"#fff"},{"offset":0.785,"color":"#111"},{"offset":0.793,"color":"#111"},{"offset":0.793,"color":"#fff"},{"offset":0.816,"color":"#fff"},{"offset":0.816,"color":"#111"},{"offset":0.824,"color":"#111"},{"offset":0.824,"color":"#fff"},{"offset":0.847,"color":"#fff"},{"offset":0.847,"color":"#111"},{"offset":0.855,"color":"#111"},{"offset":0.855,"color":"#fff"},{"offset":0.878,"color":"#fff"},{"offset":0.878,"color":"#111"},{"offset":0.886,"color":"#111"},{"offset":0.886,"color":"#fff"},{"offset":0.909,"color":"#fff"},{"offset":0.909,"color":"#111"},{"offset":0.917,"color":"#111"},{"offset":0.917,"color":"#fff"},{"offset":0.940,"color":"#fff"},{"offset":0.940,"color":"#111"},{"offset":0.948,"color":"#111"},{"offset":0.948,"color":"#fff"},{"offset":0.971,"color":"#fff"},{"offset":0.971,"color":"#111"},{"offset":0.979,"color":"#111"},{"offset":0.979,"color":"#fff"},{"offset":1,"color":"#fff"}]}},
"encoding":{"x":{"field":"time","type":"ordinal","scale":{"domain":["CT","H","1","3","5","8"],"paddingInner":0,"paddingOuter":0.5},"axis":null},"xOffset":{"field":"treatment","type":"nominal","scale":{"domain":["NC","C"],"paddingInner":0.173,"paddingOuter":0.4355}},"y":{"datum":3.476,"type":"quantitative","scale":{"domain":[0,3.5],"nice":false},"axis":{"values":[0,0.5,1,1.5,2,2.5,3],"format":".1f","title":null}}}},
{"data":{"name":"bars"},"transform":[{"filter":"datum.gene === 'VTE1' && datum.treatment === 'C'"}],"mark":{"type":"bar","fill":"white","stroke":"white","strokeWidth":1.5},
"encoding":{"x":{"field":"time","type":"ordinal","scale":{"domain":["CT","H","1","3","5","8"],"paddingInner":0,"paddingOuter":0.5},"axis":null},"xOffset":{"field":"treatment","type":"nominal","scale":{"domain":["NC","C"],"paddingInner":0.173,"paddingOuter":0.4355}},"y":{"field":"value","type":"quantitative","scale":{"domain":[0,3.5],"nice":false},"axis":{"values":[0,0.5,1,1.5,2,2.5,3],"format":".1f","title":null}},"y2":{"datum":3.476}}},
{"data":{"name":"bars"},"transform":[{"filter":"datum.gene === 'VTE1'"}],"mark":{"type":"bar","stroke":"black","strokeWidth":1.8},
"encoding":{"x":{"field":"time","type":"ordinal","scale":{"domain":["CT","H","1","3","5","8"],"paddingInner":0,"paddingOuter":0.5},"axis":null},"xOffset":{"field":"treatment","type":"nominal","scale":{"domain":["NC","C"],"paddingInner":0.173,"paddingOuter":0.4355}},"y":{"field":"value","type":"quantitative","scale":{"domain":[0,3.5],"nice":false},"axis":{"values":[0,0.5,1,1.5,2,2.5,3],"format":".1f","title":null}},
"fill":{"field":"treatment","type":"nominal","scale":{"domain":["NC","C"],"range":["#c8c8c8","transparent"]},"condition":{"test":"datum.time === 'CT'","value":"white"},"legend":null}}},
{"data":{"name":"bars"},"transform":[{"filter":"datum.gene === 'VTE1'"}],"mark":{"type":"rule","color":"black","strokeWidth":2},
"encoding":{"x":{"field":"time","type":"ordinal","scale":{"domain":["CT","H","1","3","5","8"],"paddingInner":0,"paddingOuter":0.5},"axis":null},"xOffset":{"field":"treatment","type":"nominal","scale":{"domain":["NC","C"],"paddingInner":0.173,"paddingOuter":0.4355}},"y":{"field":"value","type":"quantitative","scale":{"domain":[0,3.5],"nice":false},"axis":{"values":[0,0.5,1,1.5,2,2.5,3],"format":".1f","title":null}},"y2":{"field":"err_top"}}},
{"data":{"name":"bars"},"transform":[{"filter":"datum.gene === 'VTE1'"}],"mark":{"type":"tick","color":"black","thickness":2,"size":13,"opacity":1},
"encoding":{"x":{"field":"time","type":"ordinal","scale":{"domain":["CT","H","1","3","5","8"],"paddingInner":0,"paddingOuter":0.5},"axis":null},"xOffset":{"field":"treatment","type":"nominal","scale":{"domain":["NC","C"],"paddingInner":0.173,"paddingOuter":0.4355}},"y":{"field":"err_top","type":"quantitative","scale":{"domain":[0,3.5],"nice":false},"axis":{"values":[0,0.5,1,1.5,2,2.5,3],"format":".1f","title":null}}}},
{"data":{"name":"stars"},"transform":[{"filter":"datum.gene === 'VTE1'"}],"mark":{"type":"text","text":"*","fontSize":30,"dy":17.5,"baseline":"alphabetic","color":"black"},
"encoding":{"x":{"field":"time","type":"ordinal","scale":{"domain":["CT","H","1","3","5","8"],"paddingInner":0,"paddingOuter":0.5},"axis":null},"y":{"field":"y","type":"quantitative","scale":{"domain":[0,3.5],"nice":false},"axis":{"values":[0,0.5,1,1.5,2,2.5,3],"format":".1f","title":null}}}},
{"data":{"name":"labels"},"transform":[{"filter":"datum.gene === 'VTE1'"}],"mark":{"type":"rule","strokeDash":[2,5.2],"strokeWidth":2,"color":"#222"},
"encoding":{"x":{"datum":"1","type":"ordinal","bandPosition":0,"scale":{"domain":["CT","H","1","3","5","8"],"paddingInner":0,"paddingOuter":0.5},"axis":null}}},
{"data":{"name":"labels"},"transform":[{"filter":"datum.gene === 'VTE1'"}],"mark":{"type":"text","fontSize":27,"fontWeight":"bold","fontStyle":"italic","align":"left","baseline":"alphabetic","dx":-23,"dy":39,"color":"black"},
"encoding":{"x":{"datum":"CT","type":"ordinal","bandPosition":0,"scale":{"domain":["CT","H","1","3","5","8"],"paddingInner":0,"paddingOuter":0.5},"axis":null},"y":{"datum":3.5,"type":"quantitative","scale":{"domain":[0,3.5],"nice":false},"axis":{"values":[0,0.5,1,1.5,2,2.5,3],"format":".1f","title":null}},"text":{"field":"gene"}}}
]},
{"width":491,"height":294.4,"layer":[
{"data":{"name":"bars"},"transform":[{"filter":"datum.gene === 'VTE4' && datum.treatment === 'C'"}],"mark":{"type":"bar","strokeWidth":0,"fill":{"gradient":"linear","x1":0,"y1":0,"x2":0.1125,"y2":1.0915,"stops":[{"offset":0,"color":"#fff"},{"offset":0.010,"color":"#fff"},{"offset":0.010,"color":"#111"},{"offset":0.018,"color":"#111"},{"offset":0.018,"color":"#fff"},{"offset":0.041,"color":"#fff"},{"offset":0.041,"color":"#111"},{"offset":0.049,"color":"#111"},{"offset":0.049,"color":"#fff"},{"offset":0.072,"color":"#fff"},{"offset":0.072,"color":"#111"},{"offset":0.080,"color":"#111"},{"offset":0.080,"color":"#fff"},{"offset":0.103,"color":"#fff"},{"offset":0.103,"color":"#111"},{"offset":0.111,"color":"#111"},{"offset":0.111,"color":"#fff"},{"offset":0.134,"color":"#fff"},{"offset":0.134,"color":"#111"},{"offset":0.142,"color":"#111"},{"offset":0.142,"color":"#fff"},{"offset":0.165,"color":"#fff"},{"offset":0.165,"color":"#111"},{"offset":0.173,"color":"#111"},{"offset":0.173,"color":"#fff"},{"offset":0.196,"color":"#fff"},{"offset":0.196,"color":"#111"},{"offset":0.204,"color":"#111"},{"offset":0.204,"color":"#fff"},{"offset":0.227,"color":"#fff"},{"offset":0.227,"color":"#111"},{"offset":0.235,"color":"#111"},{"offset":0.235,"color":"#fff"},{"offset":0.258,"color":"#fff"},{"offset":0.258,"color":"#111"},{"offset":0.266,"color":"#111"},{"offset":0.266,"color":"#fff"},{"offset":0.289,"color":"#fff"},{"offset":0.289,"color":"#111"},{"offset":0.297,"color":"#111"},{"offset":0.297,"color":"#fff"},{"offset":0.320,"color":"#fff"},{"offset":0.320,"color":"#111"},{"offset":0.328,"color":"#111"},{"offset":0.328,"color":"#fff"},{"offset":0.351,"color":"#fff"},{"offset":0.351,"color":"#111"},{"offset":0.359,"color":"#111"},{"offset":0.359,"color":"#fff"},{"offset":0.382,"color":"#fff"},{"offset":0.382,"color":"#111"},{"offset":0.390,"color":"#111"},{"offset":0.390,"color":"#fff"},{"offset":0.413,"color":"#fff"},{"offset":0.413,"color":"#111"},{"offset":0.421,"color":"#111"},{"offset":0.421,"color":"#fff"},{"offset":0.444,"color":"#fff"},{"offset":0.444,"color":"#111"},{"offset":0.452,"color":"#111"},{"offset":0.452,"color":"#fff"},{"offset":0.475,"color":"#fff"},{"offset":0.475,"color":"#111"},{"offset":0.483,"color":"#111"},{"offset":0.483,"color":"#fff"},{"offset":0.506,"color":"#fff"},{"offset":0.506,"color":"#111"},{"offset":0.514,"color":"#111"},{"offset":0.514,"color":"#fff"},{"offset":0.537,"color":"#fff"},{"offset":0.537,"color":"#111"},{"offset":0.545,"color":"#111"},{"offset":0.545,"color":"#fff"},{"offset":0.568,"color":"#fff"},{"offset":0.568,"color":"#111"},{"offset":0.576,"color":"#111"},{"offset":0.576,"color":"#fff"},{"offset":0.599,"color":"#fff"},{"offset":0.599,"color":"#111"},{"offset":0.607,"color":"#111"},{"offset":0.607,"color":"#fff"},{"offset":0.630,"color":"#fff"},{"offset":0.630,"color":"#111"},{"offset":0.638,"color":"#111"},{"offset":0.638,"color":"#fff"},{"offset":0.661,"color":"#fff"},{"offset":0.661,"color":"#111"},{"offset":0.669,"color":"#111"},{"offset":0.669,"color":"#fff"},{"offset":0.692,"color":"#fff"},{"offset":0.692,"color":"#111"},{"offset":0.700,"color":"#111"},{"offset":0.700,"color":"#fff"},{"offset":0.723,"color":"#fff"},{"offset":0.723,"color":"#111"},{"offset":0.731,"color":"#111"},{"offset":0.731,"color":"#fff"},{"offset":0.754,"color":"#fff"},{"offset":0.754,"color":"#111"},{"offset":0.762,"color":"#111"},{"offset":0.762,"color":"#fff"},{"offset":0.785,"color":"#fff"},{"offset":0.785,"color":"#111"},{"offset":0.793,"color":"#111"},{"offset":0.793,"color":"#fff"},{"offset":0.816,"color":"#fff"},{"offset":0.816,"color":"#111"},{"offset":0.824,"color":"#111"},{"offset":0.824,"color":"#fff"},{"offset":0.847,"color":"#fff"},{"offset":0.847,"color":"#111"},{"offset":0.855,"color":"#111"},{"offset":0.855,"color":"#fff"},{"offset":0.878,"color":"#fff"},{"offset":0.878,"color":"#111"},{"offset":0.886,"color":"#111"},{"offset":0.886,"color":"#fff"},{"offset":0.909,"color":"#fff"},{"offset":0.909,"color":"#111"},{"offset":0.917,"color":"#111"},{"offset":0.917,"color":"#fff"},{"offset":0.940,"color":"#fff"},{"offset":0.940,"color":"#111"},{"offset":0.948,"color":"#111"},{"offset":0.948,"color":"#fff"},{"offset":0.971,"color":"#fff"},{"offset":0.971,"color":"#111"},{"offset":0.979,"color":"#111"},{"offset":0.979,"color":"#fff"},{"offset":1,"color":"#fff"}]}},
"encoding":{"x":{"field":"time","type":"ordinal","scale":{"domain":["CT","H","1","3","5","8"],"paddingInner":0,"paddingOuter":0.5},"axis":{"labelFontSize":21,"labelColor":"black","labelPadding":15,"labelAngle":0,"tickSize":7,"tickWidth":2,"tickColor":"black","domain":false,"grid":false,"title":"Weeks of storage at 2 ºC","titleFontSize":23,"titleFontWeight":"bold","titleColor":"black","titleX":326,"titleY":98,"titleBaseline":"alphabetic","titleAlign":"center"}},"xOffset":{"field":"treatment","type":"nominal","scale":{"domain":["NC","C"],"paddingInner":0.173,"paddingOuter":0.4355}},"y":{"datum":2.483,"type":"quantitative","scale":{"domain":[0,2.5],"nice":false},"axis":{"values":[0,0.5,1,1.5,2],"format":".1f","title":null}}}},
{"data":{"name":"bars"},"transform":[{"filter":"datum.gene === 'VTE4' && datum.treatment === 'C'"}],"mark":{"type":"bar","fill":"white","stroke":"white","strokeWidth":1.5},
"encoding":{"x":{"field":"time","type":"ordinal","scale":{"domain":["CT","H","1","3","5","8"],"paddingInner":0,"paddingOuter":0.5},"axis":{"labelFontSize":21,"labelColor":"black","labelPadding":15,"labelAngle":0,"tickSize":7,"tickWidth":2,"tickColor":"black","domain":false,"grid":false,"title":"Weeks of storage at 2 ºC","titleFontSize":23,"titleFontWeight":"bold","titleColor":"black","titleX":326,"titleY":98,"titleBaseline":"alphabetic","titleAlign":"center"}},"xOffset":{"field":"treatment","type":"nominal","scale":{"domain":["NC","C"],"paddingInner":0.173,"paddingOuter":0.4355}},"y":{"field":"value","type":"quantitative","scale":{"domain":[0,2.5],"nice":false},"axis":{"values":[0,0.5,1,1.5,2],"format":".1f","title":null}},"y2":{"datum":2.483}}},
{"data":{"name":"bars"},"transform":[{"filter":"datum.gene === 'VTE4'"}],"mark":{"type":"bar","stroke":"black","strokeWidth":1.8},
"encoding":{"x":{"field":"time","type":"ordinal","scale":{"domain":["CT","H","1","3","5","8"],"paddingInner":0,"paddingOuter":0.5},"axis":{"labelFontSize":21,"labelColor":"black","labelPadding":15,"labelAngle":0,"tickSize":7,"tickWidth":2,"tickColor":"black","domain":false,"grid":false,"title":"Weeks of storage at 2 ºC","titleFontSize":23,"titleFontWeight":"bold","titleColor":"black","titleX":326,"titleY":98,"titleBaseline":"alphabetic","titleAlign":"center"}},"xOffset":{"field":"treatment","type":"nominal","scale":{"domain":["NC","C"],"paddingInner":0.173,"paddingOuter":0.4355}},"y":{"field":"value","type":"quantitative","scale":{"domain":[0,2.5],"nice":false},"axis":{"values":[0,0.5,1,1.5,2],"format":".1f","title":null}},
"fill":{"field":"treatment","type":"nominal","scale":{"domain":["NC","C"],"range":["#c8c8c8","transparent"]},"condition":{"test":"datum.time === 'CT'","value":"white"},"legend":null}}},
{"data":{"name":"bars"},"transform":[{"filter":"datum.gene === 'VTE4'"}],"mark":{"type":"rule","color":"black","strokeWidth":2},
"encoding":{"x":{"field":"time","type":"ordinal","scale":{"domain":["CT","H","1","3","5","8"],"paddingInner":0,"paddingOuter":0.5},"axis":{"labelFontSize":21,"labelColor":"black","labelPadding":15,"labelAngle":0,"tickSize":7,"tickWidth":2,"tickColor":"black","domain":false,"grid":false,"title":"Weeks of storage at 2 ºC","titleFontSize":23,"titleFontWeight":"bold","titleColor":"black","titleX":326,"titleY":98,"titleBaseline":"alphabetic","titleAlign":"center"}},"xOffset":{"field":"treatment","type":"nominal","scale":{"domain":["NC","C"],"paddingInner":0.173,"paddingOuter":0.4355}},"y":{"field":"value","type":"quantitative","scale":{"domain":[0,2.5],"nice":false},"axis":{"values":[0,0.5,1,1.5,2],"format":".1f","title":null}},"y2":{"field":"err_top"}}},
{"data":{"name":"bars"},"transform":[{"filter":"datum.gene === 'VTE4'"}],"mark":{"type":"tick","color":"black","thickness":2,"size":13,"opacity":1},
"encoding":{"x":{"field":"time","type":"ordinal","scale":{"domain":["CT","H","1","3","5","8"],"paddingInner":0,"paddingOuter":0.5},"axis":{"labelFontSize":21,"labelColor":"black","labelPadding":15,"labelAngle":0,"tickSize":7,"tickWidth":2,"tickColor":"black","domain":false,"grid":false,"title":"Weeks of storage at 2 ºC","titleFontSize":23,"titleFontWeight":"bold","titleColor":"black","titleX":326,"titleY":98,"titleBaseline":"alphabetic","titleAlign":"center"}},"xOffset":{"field":"treatment","type":"nominal","scale":{"domain":["NC","C"],"paddingInner":0.173,"paddingOuter":0.4355}},"y":{"field":"err_top","type":"quantitative","scale":{"domain":[0,2.5],"nice":false},"axis":{"values":[0,0.5,1,1.5,2],"format":".1f","title":null}}}},
{"data":{"name":"stars"},"transform":[{"filter":"datum.gene === 'VTE4'"}],"mark":{"type":"text","text":"*","fontSize":30,"dy":17.5,"baseline":"alphabetic","color":"black"},
"encoding":{"x":{"field":"time","type":"ordinal","scale":{"domain":["CT","H","1","3","5","8"],"paddingInner":0,"paddingOuter":0.5},"axis":{"labelFontSize":21,"labelColor":"black","labelPadding":15,"labelAngle":0,"tickSize":7,"tickWidth":2,"tickColor":"black","domain":false,"grid":false,"title":"Weeks of storage at 2 ºC","titleFontSize":23,"titleFontWeight":"bold","titleColor":"black","titleX":326,"titleY":98,"titleBaseline":"alphabetic","titleAlign":"center"}},"y":{"field":"y","type":"quantitative","scale":{"domain":[0,2.5],"nice":false},"axis":{"values":[0,0.5,1,1.5,2],"format":".1f","title":null}}}},
{"data":{"name":"labels"},"transform":[{"filter":"datum.gene === 'VTE4'"}],"mark":{"type":"rule","strokeDash":[2,5.2],"strokeWidth":2,"color":"#222"},
"encoding":{"x":{"datum":"1","type":"ordinal","bandPosition":0,"scale":{"domain":["CT","H","1","3","5","8"],"paddingInner":0,"paddingOuter":0.5},"axis":{"labelFontSize":21,"labelColor":"black","labelPadding":15,"labelAngle":0,"tickSize":7,"tickWidth":2,"tickColor":"black","domain":false,"grid":false,"title":"Weeks of storage at 2 ºC","titleFontSize":23,"titleFontWeight":"bold","titleColor":"black","titleX":326,"titleY":98,"titleBaseline":"alphabetic","titleAlign":"center"}}}},
{"data":{"name":"labels"},"transform":[{"filter":"datum.gene === 'VTE4'"}],"mark":{"type":"rule","color":"black","strokeWidth":2},
"encoding":{"x":{"datum":"1","type":"ordinal","bandPosition":0.29,"scale":{"domain":["CT","H","1","3","5","8"],"paddingInner":0,"paddingOuter":0.5},"axis":{"labelFontSize":21,"labelColor":"black","labelPadding":15,"labelAngle":0,"tickSize":7,"tickWidth":2,"tickColor":"black","domain":false,"grid":false,"title":"Weeks of storage at 2 ºC","titleFontSize":23,"titleFontWeight":"bold","titleColor":"black","titleX":326,"titleY":98,"titleBaseline":"alphabetic","titleAlign":"center"}},"x2":{"datum":"8","bandPosition":0.95},"y":{"datum":-0.518,"type":"quantitative","scale":{"domain":[0,2.5],"nice":false},"axis":{"values":[0,0.5,1,1.5,2],"format":".1f","title":null}}}},
{"data":{"name":"labels"},"transform":[{"filter":"datum.gene === 'VTE4'"}],"mark":{"type":"text","fontSize":27,"fontWeight":"bold","fontStyle":"italic","align":"left","baseline":"alphabetic","dx":-23,"dy":39,"color":"black"},
"encoding":{"x":{"datum":"CT","type":"ordinal","bandPosition":0,"scale":{"domain":["CT","H","1","3","5","8"],"paddingInner":0,"paddingOuter":0.5},"axis":{"labelFontSize":21,"labelColor":"black","labelPadding":15,"labelAngle":0,"tickSize":7,"tickWidth":2,"tickColor":"black","domain":false,"grid":false,"title":"Weeks of storage at 2 ºC","titleFontSize":23,"titleFontWeight":"bold","titleColor":"black","titleX":326,"titleY":98,"titleBaseline":"alphabetic","titleAlign":"center"}},"y":{"datum":2.5,"type":"quantitative","scale":{"domain":[0,2.5],"nice":false},"axis":{"values":[0,0.5,1,1.5,2],"format":".1f","title":null}},"text":{"field":"gene"}}}
]}
]
}
